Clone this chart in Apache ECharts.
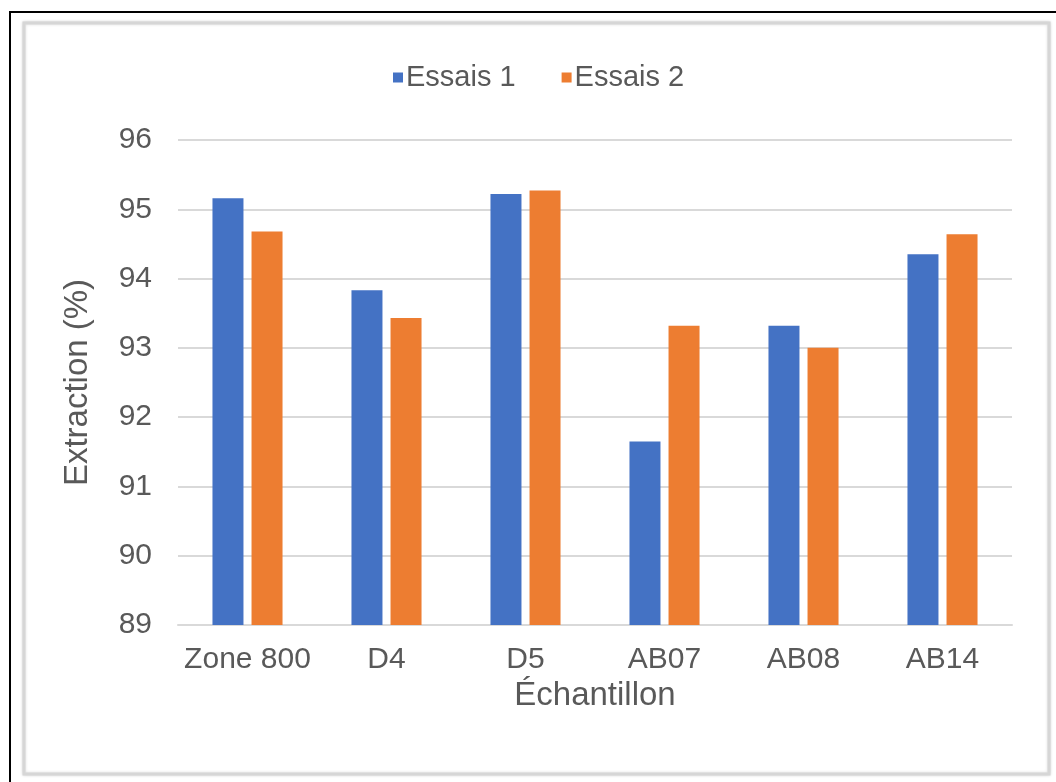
<!DOCTYPE html>
<html>
<head>
<meta charset="utf-8">
<script src="https://cdn.jsdelivr.net/npm/echarts@6/dist/echarts.min.js"></script>
<style>
html,body{margin:0;padding:0;background:#fff;}
#chart{width:1056px;height:782px;}
</style>
</head>
<body>
<div id="chart"></div>
<script>
const categories = ['Zone 800', 'D4', 'D5', 'AB07', 'AB08', 'AB14'];
const essais1 = [95.16, 93.83, 95.22, 91.65, 93.32, 94.35];
const essais2 = [94.68, 93.43, 95.27, 93.32, 93.00, 94.64];
const seriesNames = ['Essais 1', 'Essais 2'];
const yTicks = { min: 89, max: 96, interval: 1 };
const xTitle = 'Échantillon';
const yTitle = 'Extraction (%)';

const textColor = '#595959';
const font = 'Liberation Sans, Arial, sans-serif';

const chart = echarts.init(document.getElementById('chart'), null, { renderer: 'canvas' });
chart.setOption({
  backgroundColor: '#fff',
  animation: false,
  color: ['#4472C4', '#ED7D31'],
  graphic: [
    {
      type: 'rect',
      shape: { x: 10, y: 12, width: 1200, height: 900 },
      style: { fill: 'none', stroke: '#000', lineWidth: 2 },
      z: 0
    },
    {
      type: 'rect',
      shape: { x: 24, y: 23, width: 1025, height: 751 },
      style: { fill: '#fff', stroke: '#d6d6d6', lineWidth: 3, shadowBlur: 3, shadowColor: 'rgba(0,0,0,0.15)' },
      z: 0
    }
  ],
  legend: {
    data: seriesNames,
    left: 388,
    top: 58,
    itemWidth: 10,
    itemHeight: 10,
    itemGap: 46,
    icon: 'rect',
    textStyle: { color: textColor, fontSize: 29, fontFamily: font, padding: [0, 0, 0, -2] }
  },
  grid: { left: 178, right: 44, top: 140, bottom: 157, containLabel: false },
  xAxis: {
    type: 'category',
    data: categories,
    axisTick: { show: false },
    axisLine: { lineStyle: { color: '#d9d9d9', width: 2 } },
    axisLabel: { color: textColor, fontSize: 30, fontFamily: font, margin: 20, interval: 0 },
    name: xTitle,
    nameLocation: 'middle',
    nameGap: 50,
    nameTextStyle: { color: textColor, fontSize: 33, fontFamily: font }
  },
  yAxis: {
    type: 'value',
    min: yTicks.min,
    max: yTicks.max,
    interval: yTicks.interval,
    axisLine: { show: false },
    axisTick: { show: false },
    splitLine: { lineStyle: { color: '#d9d9d9', width: 2 } },
    axisLabel: { color: textColor, fontSize: 30, fontFamily: font, margin: 26 },
    name: yTitle,
    nameLocation: 'middle',
    nameGap: 84,
    nameTextStyle: { color: textColor, fontSize: 33, fontFamily: font }
  },
  series: [
    { name: seriesNames[0], type: 'bar', data: essais1, barWidth: 31, barGap: '26%' },
    { name: seriesNames[1], type: 'bar', data: essais2, barWidth: 31, barGap: '26%' }
  ]
});
</script>
</body>
</html>
